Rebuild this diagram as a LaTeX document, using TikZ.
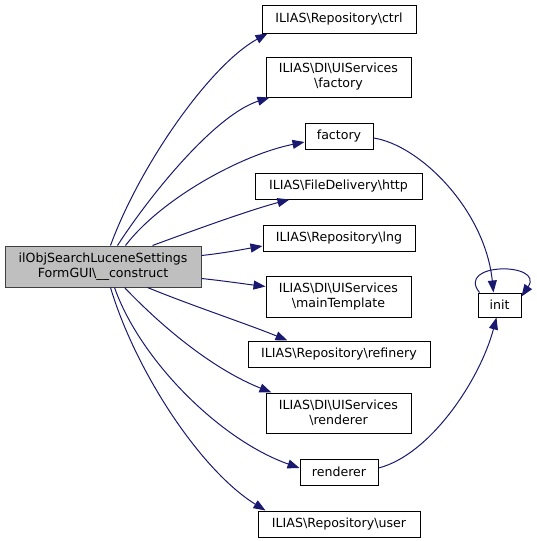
\documentclass[tikz,border=0pt]{standalone}
\usepackage{fontspec}
\setmainfont{DejaVu Sans}
\usetikzlibrary{arrows.meta}
\definecolor{edgecol}{RGB}{25,25,112}
\definecolor{mainfill}{RGB}{191,191,191}
\definecolor{mainborder}{RGB}{64,64,64}
\begin{document}
\begin{tikzpicture}[x=1pt,y=-1pt,
  box/.style={draw=black,line width=1pt,inner sep=0pt,font=\fontsize{12.6}{15}\selectfont,align=center},
  edge/.style={draw=edgecol,line width=1pt,-{Triangle[length=12pt,width=9pt]}}]
\useasboundingbox (0,0) rectangle (536,541);
\node[box,draw=mainborder,fill=mainfill,minimum width=196pt,minimum height=41pt] (main) at (103,266.5) {ilObjSearchLuceneSettings\\FormGUI\textbackslash\_\_construct};
\node[box,minimum width=154pt,minimum height=28pt] (ctrl) at (339,19) {ILIAS\textbackslash Repository\textbackslash ctrl};
\node[box,minimum width=145pt,minimum height=40pt] (uifactory) at (338.5,77) {ILIAS\textbackslash DI\textbackslash UIServices\\\textbackslash factory};
\node[box,minimum width=68pt,minimum height=26pt] (factory) at (339,136) {factory};
\node[box,minimum width=167pt,minimum height=26pt] (http) at (338.5,186) {ILIAS\textbackslash FileDelivery\textbackslash http};
\node[box,minimum width=152pt,minimum height=26pt] (lng) at (339,238) {ILIAS\textbackslash Repository\textbackslash lng};
\node[box,minimum width=145pt,minimum height=41pt] (maintpl) at (338.5,296.5) {ILIAS\textbackslash DI\textbackslash UIServices\\\textbackslash mainTemplate};
\node[box,minimum width=182pt,minimum height=26pt] (refinery) at (339,354) {ILIAS\textbackslash Repository\textbackslash refinery};
\node[box,minimum width=145pt,minimum height=40pt] (uirenderer) at (338.5,413) {ILIAS\textbackslash DI\textbackslash UIServices\\\textbackslash renderer};
\node[box,minimum width=78pt,minimum height=26pt] (renderer) at (339,472) {renderer};
\node[box,minimum width=162pt,minimum height=26pt] (user) at (339,524) {ILIAS\textbackslash Repository\textbackslash user};
\node[box,minimum width=43pt,minimum height=24pt] (init) at (499.5,305) {init};

\draw[edge] ([xshift=106pt]main.north west) .. controls (140,165) and (210,65) .. ([xshift=6pt]ctrl.south west);
\draw[edge] ([xshift=113pt]main.north west) .. controls (150,195) and (215,115) .. ([xshift=4pt]uifactory.south west);
\draw[edge] ([xshift=121pt]main.north west) .. controls (160,200) and (240,155) .. ([yshift=-6pt]factory.west);
\draw[edge] ([xshift=148pt]main.north west) .. controls (200,228) and (250,210) .. ([xshift=35pt]http.south west);
\draw[edge] ([yshift=-10pt]main.north east) .. controls (225,253) and (245,249) .. ([yshift=-8pt]lng.west);
\draw[edge] ([yshift=9pt]main.south east) .. controls (225,281) and (245,284) .. ([yshift=10pt]maintpl.west);
\draw[edge] ([xshift=143pt]main.south west) .. controls (190,305) and (250,325) .. ([xshift=40pt]refinery.north west);
\draw[edge] ([xshift=120pt]main.south west) .. controls (165,330) and (215,370) .. ([xshift=6pt]uirenderer.north west);
\draw[edge] ([xshift=110pt]main.south west) .. controls (140,360) and (220,440) .. ([yshift=4pt]renderer.west);
\draw[edge] ([xshift=106pt]main.south west) .. controls (135,370) and (200,470) .. ([xshift=8pt]user.north west);
\draw[edge] ([yshift=-2pt]factory.east) .. controls (420,145) and (485,210) .. ([xshift=-6pt]init.north);
\draw[edge] ([yshift=4pt]renderer.east) .. controls (430,455) and (480,380) .. ([xshift=-3pt]init.south);
\draw[edge] ([xshift=2pt]init.north west) .. controls (455,262) and (545,262) .. ([yshift=-4pt]init.north east);
\end{tikzpicture}
\end{document}
